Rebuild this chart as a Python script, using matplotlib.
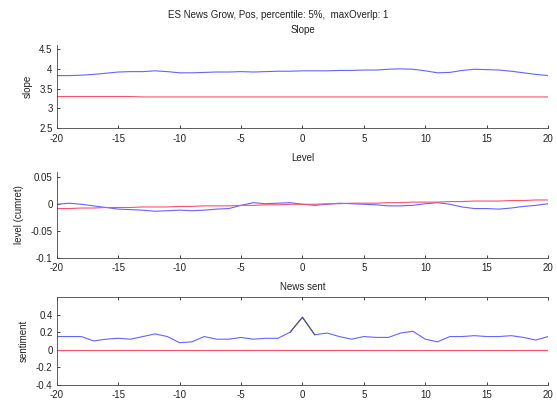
import matplotlib
matplotlib.use("Agg")
import matplotlib.pyplot as plt
import numpy as np

plt.rcParams['font.family'] = ['Liberation Sans', 'DejaVu Sans']

lags = list(range(-20, 21))

slope_news = [3.83, 3.83, 3.84, 3.86, 3.89, 3.92, 3.93, 3.93, 3.95, 3.93, 3.90, 3.90,
              3.91, 3.92, 3.92, 3.93, 3.92, 3.93, 3.94, 3.94, 3.95, 3.95, 3.95, 3.96,
              3.96, 3.97, 3.97, 3.99, 4.00, 3.99, 3.95, 3.90, 3.91, 3.96, 3.99, 3.98,
              3.97, 3.94, 3.90, 3.86, 3.83]
slope_base = [3.30, 3.30, 3.30, 3.30, 3.30, 3.30, 3.30, 3.29, 3.29, 3.29, 3.29, 3.29,
              3.29, 3.29, 3.29, 3.29, 3.29, 3.29, 3.29, 3.29, 3.29, 3.29, 3.29, 3.29,
              3.29, 3.29, 3.29, 3.29, 3.29, 3.29, 3.29, 3.29, 3.29, 3.29, 3.29, 3.29,
              3.29, 3.29, 3.29, 3.29, 3.29]

level_news = [0.000, 0.002, 0.000, -0.003, -0.006, -0.009, -0.010, -0.011, -0.013, -0.012,
              -0.011, -0.012, -0.011, -0.009, -0.008, -0.002, 0.003, 0.001, 0.002, 0.003,
              0.000, -0.002, 0.000, 0.002, 0.001, 0.000, -0.001, -0.003, -0.003, -0.002,
              0.001, 0.003, 0.000, -0.005, -0.008, -0.008, -0.009, -0.007, -0.004, -0.002,
              0.001]
level_base = [-0.008, -0.008, -0.007, -0.007, -0.006, -0.006, -0.006, -0.005, -0.005, -0.005,
              -0.004, -0.004, -0.003, -0.003, -0.003, -0.002, -0.002, -0.001, -0.001, 0.000,
              0.000, 0.000, 0.001, 0.001, 0.002, 0.002, 0.002, 0.003, 0.003, 0.004,
              0.004, 0.004, 0.005, 0.005, 0.006, 0.006, 0.006, 0.007, 0.007, 0.008,
              0.008]

sent_news = [0.15, 0.15, 0.15, 0.10, 0.12, 0.13, 0.12, 0.15, 0.18, 0.15,
             0.08, 0.09, 0.15, 0.12, 0.12, 0.14, 0.12, 0.13, 0.13, 0.20,
             0.37, 0.17, 0.19, 0.15, 0.12, 0.15, 0.14, 0.14, 0.19, 0.21,
             0.12, 0.09, 0.15, 0.15, 0.16, 0.15, 0.15, 0.16, 0.14, 0.11,
             0.15]
sent_base = [0.0] * 41

event_lags = [-1, 0, 1]

suptitle = "ES News Grow, Pos, percentile: 5%,  maxOverlp: 1"
titles = ["Slope", "Level", "News sent"]
ylabels = ["slope", "level (cumret)", "sentiment"]
ylims = [(2.5, 4.6), (-0.1, 0.06), (-0.4, 0.6)]
yticks = [[2.5, 3, 3.5, 4, 4.5], [-0.1, -0.05, 0, 0.05], [-0.4, -0.2, 0, 0.2, 0.4]]
yticklabels = [["2.5", "3", "3.5", "4", "4.5"], ["-0.1", "-0.05", "0", "0.05"],
               ["-0.4", "-0.2", "0", "0.2", "0.4"]]
xticks = list(range(-20, 21, 5))

fig = plt.figure(figsize=(5.57, 4.03), dpi=100)
positions = [[0.102, 0.682, 0.882, 0.206], [0.102, 0.360, 0.882, 0.213],
             [0.102, 0.045, 0.882, 0.218]]
series = [(slope_news, slope_base), (level_news, level_base), (sent_news, sent_base)]
title_pads = [9, 8, 5]
txt = '#222222'
for i, (pos, (news, base)) in enumerate(zip(positions, series)):
    ax = fig.add_axes(pos)
    ax.plot(lags, news, color='#6464ff', lw=0.8)
    ax.plot(lags, base, color='#ff5070', lw=0.8)
    if i == 2:
        idx = [lags.index(l) for l in event_lags]
        ax.plot(event_lags, [news[j] for j in idx], color='#555555', lw=0.8)
    ax.set_xlim(-20, 20)
    ax.set_ylim(*ylims[i])
    ax.set_xticks(xticks)
    ax.set_xticklabels([str(t) for t in xticks])
    ax.set_yticks(yticks[i])
    ax.set_yticklabels(yticklabels[i])
    ax.tick_params(direction='in', length=2.5, labelsize=7, colors=txt,
                   top=(i == 2), right=False, width=0.6)
    ax.tick_params(axis='x', pad=4)
    ax.tick_params(axis='y', pad=3)
    for s in ['top', 'right']:
        ax.spines[s].set_visible(i == 2 and s == 'top')
    for s in ax.spines.values():
        s.set_linewidth(0.6)
        s.set_color('#444444')
    ax.set_title(titles[i], fontsize=7, color=txt, pad=title_pads[i])
    ax.set_ylabel(ylabels[i], fontsize=7, color=txt, labelpad=5)

fig.text(0.5, 0.962, suptitle, ha='center', va='center', fontsize=7, color=txt)
fig.savefig("out.png", dpi=100)
